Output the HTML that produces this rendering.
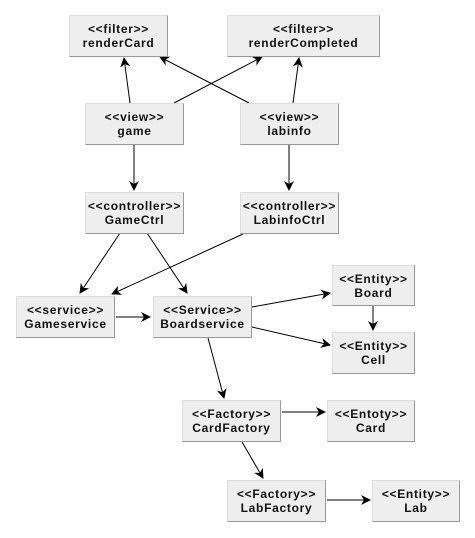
<!DOCTYPE html>
<html><head><style>
body{margin:0;background:#fff;width:475px;height:538px;position:relative;overflow:hidden;font-family:"Liberation Sans","DejaVu Sans",sans-serif}
.b{position:absolute;background:#eee;border:1px solid #ddd;border-right:1px solid #999;border-bottom:1px solid #999;box-sizing:border-box;text-align:center;font-size:12px;line-height:14px;padding-top:6px;font-weight:bold;color:#111;white-space:nowrap;letter-spacing:0.7px;display:flex;flex-direction:column;align-items:center}
svg{position:absolute;left:0;top:0}
</style></head><body>
<svg width="475" height="538">
<defs><marker id="a" markerWidth="10" markerHeight="10" refX="9" refY="5" orient="auto" markerUnits="userSpaceOnUse"><path d="M0,0 L10,5 L0,10 L3,5 Z" fill="#000"/></marker></defs>
<g stroke="#000" stroke-width="1" marker-end="url(#a)" fill="none">
<line x1="130" y1="103" x2="124" y2="58"/>
<line x1="174" y1="103" x2="262" y2="57"/>
<line x1="249" y1="103" x2="160" y2="57"/>
<line x1="293" y1="103" x2="299" y2="58"/>
<line x1="134" y1="145" x2="134" y2="190"/>
<line x1="289" y1="145" x2="289" y2="190"/>
<line x1="120" y1="233" x2="80" y2="293"/>
<line x1="147" y1="233" x2="187" y2="293"/>
<line x1="243" y1="234" x2="112" y2="294"/>
<line x1="116" y1="317" x2="150" y2="317"/>
<line x1="252" y1="307" x2="330" y2="293"/>
<line x1="252" y1="327" x2="330" y2="345"/>
<line x1="373" y1="306" x2="373" y2="330"/>
<line x1="208" y1="338" x2="224" y2="398"/>
<line x1="282" y1="412" x2="325" y2="412"/>
<line x1="242" y1="442" x2="263" y2="478"/>
<line x1="327" y1="500" x2="370" y2="500"/>
</g></svg>
<div class="b" style="left:69px;top:15px;width:99px;height:42px"><span>&lt;&lt;filter&gt;&gt;</span><span>renderCard</span></div>
<div class="b" style="left:227px;top:15px;width:153px;height:42px"><span>&lt;&lt;filter&gt;&gt;</span><span>renderCompleted</span></div>
<div class="b" style="left:85px;top:103px;width:99px;height:42px"><span>&lt;&lt;view&gt;&gt;</span><span>game</span></div>
<div class="b" style="left:240px;top:103px;width:99px;height:42px"><span>&lt;&lt;view&gt;&gt;</span><span>labinfo</span></div>
<div class="b" style="left:85px;top:192px;width:99px;height:42px"><span>&lt;&lt;controller&gt;&gt;</span><span>GameCtrl</span></div>
<div class="b" style="left:240px;top:192px;width:99px;height:42px"><span>&lt;&lt;controller&gt;&gt;</span><span>LabinfoCtrl</span></div>
<div class="b" style="left:332px;top:265px;width:83px;height:41px"><span>&lt;&lt;Entity&gt;&gt;</span><span>Board</span></div>
<div class="b" style="left:16px;top:296px;width:99px;height:42px"><span>&lt;&lt;service&gt;&gt;</span><span>Gameservice</span></div>
<div class="b" style="left:153px;top:296px;width:99px;height:42px"><span>&lt;&lt;Service&gt;&gt;</span><span>Boardservice</span></div>
<div class="b" style="left:332px;top:332px;width:83px;height:42px"><span>&lt;&lt;Entity&gt;&gt;</span><span>Cell</span></div>
<div class="b" style="left:182px;top:400px;width:99px;height:42px"><span>&lt;&lt;Factory&gt;&gt;</span><span>CardFactory</span></div>
<div class="b" style="left:327px;top:400px;width:88px;height:42px"><span>&lt;&lt;Entoty&gt;&gt;</span><span>Card</span></div>
<div class="b" style="left:227px;top:480px;width:99px;height:42px"><span>&lt;&lt;Factory&gt;&gt;</span><span>LabFactory</span></div>
<div class="b" style="left:372px;top:480px;width:88px;height:42px"><span>&lt;&lt;Entity&gt;&gt;</span><span>Lab</span></div>
</body></html>
